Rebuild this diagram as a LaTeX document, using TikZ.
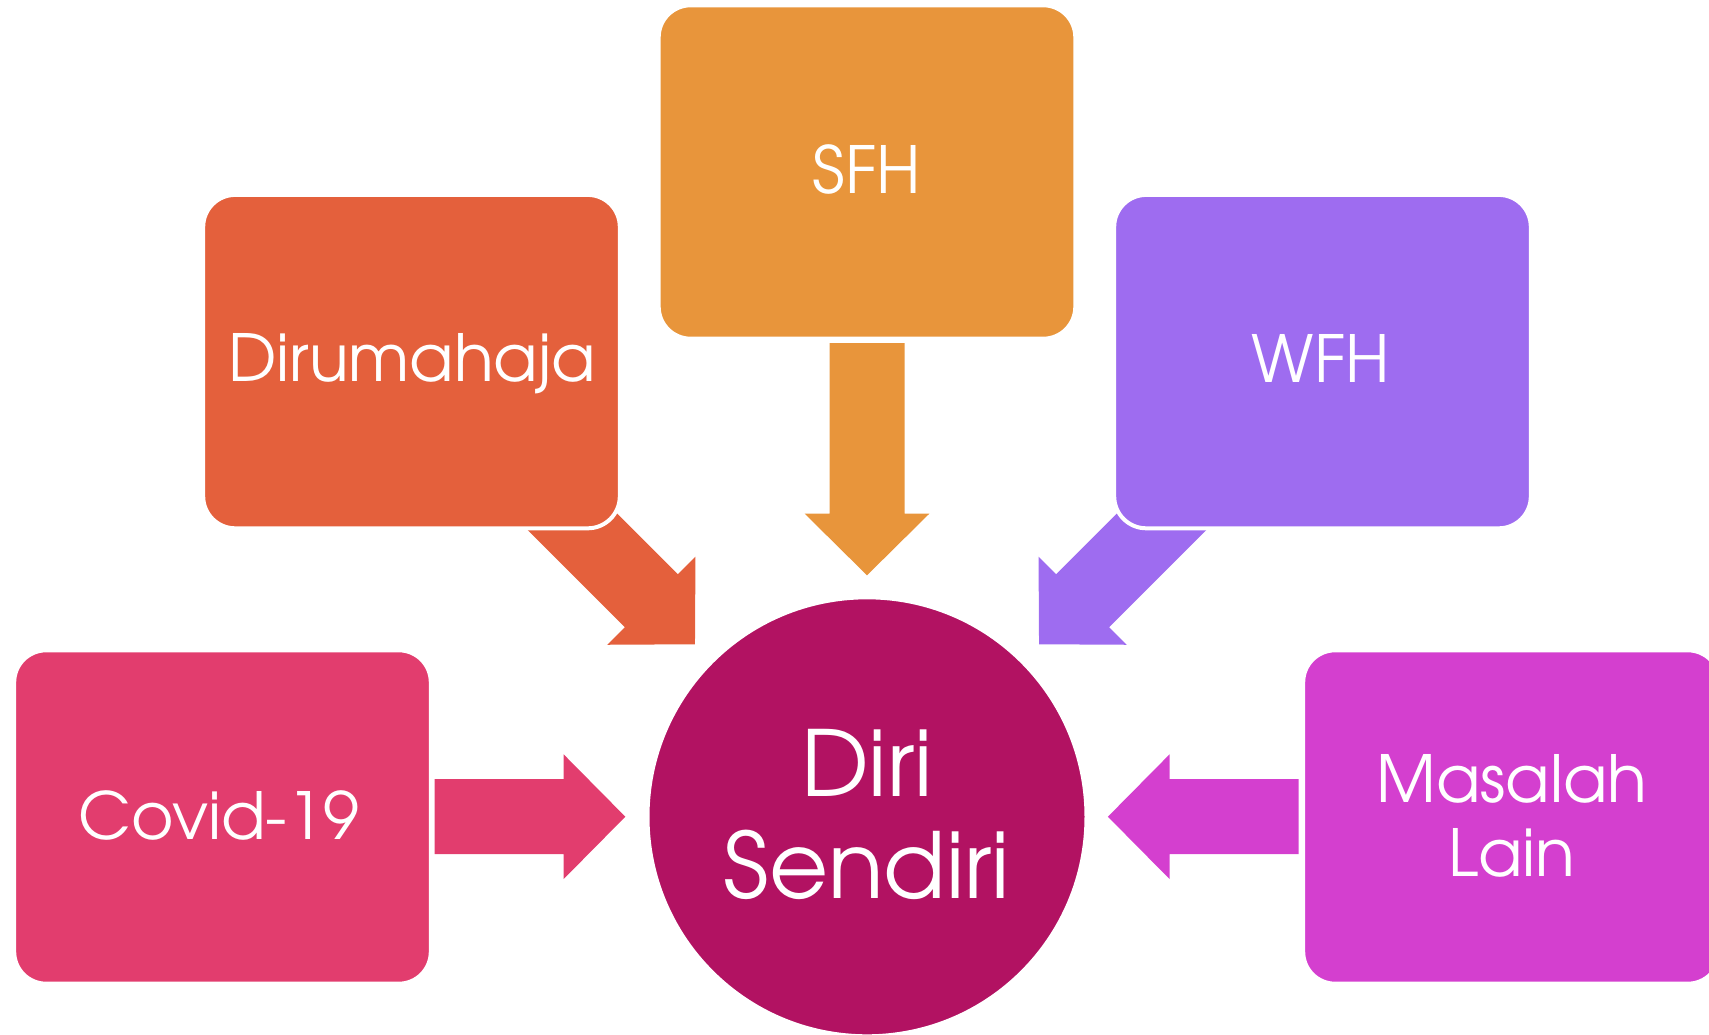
\documentclass[tikz,border=0pt]{standalone}
\usepackage{fontspec}
\setmainfont{TeX Gyre Adventor}
\usetikzlibrary{backgrounds,calc}
\definecolor{cSFH}{HTML}{E8953B}
\definecolor{cDiru}{HTML}{E4603C}
\definecolor{cWFH}{HTML}{9E6CF0}
\definecolor{cCovid}{HTML}{E23D6E}
\definecolor{cMasalah}{HTML}{D43FCF}
\definecolor{cDiri}{HTML}{B21262}
% #1 tail coordinate, #2 angle, #3 length, #4 colour
\newcommand\blockarrow[4]{%
  \fill[#4, shift={(#1)}, rotate=#2]
    (0,37.5) -- ({#3-61.6},37.5) -- ({#3-61.6},62.3) -- (#3,0)
    -- ({#3-61.6},-62.3) -- ({#3-61.6},-37.5) -- (0,-37.5) -- cycle;}
\begin{document}
\begin{tikzpicture}[x=1pt,y=-1pt,
  box/.style={rectangle, rounded corners=32pt, minimum width=416.6pt,
    minimum height=333.4pt, draw=white, line width=4pt, inner sep=0pt},
  lbl/.style={text=white, font=\fontsize{65}{74}\selectfont, align=center,
    inner sep=0pt, anchor=base},
  biglbl/.style={text=white, font=\fontsize{91}{102.3}\selectfont, align=center,
    inner sep=0pt, anchor=base}]
\useasboundingbox (0,0) rectangle (1709,1034);
\clip (0,0) rectangle (1709,1034);
% boxes
\node[box, fill=cSFH] (sfh) at (867,172) {};
\node[box, fill=cDiru] (diru) at (411.5,361.6) {};
\node[box, fill=cWFH] (wfh) at (1322.5,361.6) {};
\node[box, fill=cCovid] (covid) at (222.5,817) {};
\node[box, fill=cMasalah] (masalah) at (1511.5,817) {};
\node[circle, fill=cDiri, draw=white, line width=4pt, minimum size=439pt,
  inner sep=0pt] (diri) at (867,816.8) {};
% labels (base = baseline of the last line)
\node[lbl] (sfh-t) at (867,193.3) {SFH};
\node[lbl] (diru-t) at (412,381.7) {Dirumahaja};
\node[lbl] (wfh-t) at (1321,382.5) {WFH};
\node[lbl] (covid-t) at (219,839) {Covid-19};
\node[lbl] (masalah-t) at (1512,876) {Masalah\\Lain};
\node[biglbl] (diri-t) at (867,898.3) {Diri\\Sendiri};
% arrows
\begin{scope}[on background layer]
  \coordinate (sfh-a) at ($(sfh.south)+(0,2.3)$);
  \coordinate (covid-a) at ($(covid.east)+(1.9,-0.3)$);
  \coordinate (masalah-a) at ($(masalah.west)+(-2.7,-0.3)$);
  \coordinate (diru-a) at (530.7,480);
  \coordinate (wfh-a) at (1203.3,480);
  \blockarrow{sfh-a}{-90}{232.3}{cSFH}
  \blockarrow{covid-a}{0}{190.6}{cCovid}
  \blockarrow{masalah-a}{180}{190.6}{cMasalah}
  \blockarrow{diru-a}{-45}{232.3}{cDiru}
  \blockarrow{wfh-a}{-135}{232.3}{cWFH}
\end{scope}
\end{tikzpicture}
\end{document}
